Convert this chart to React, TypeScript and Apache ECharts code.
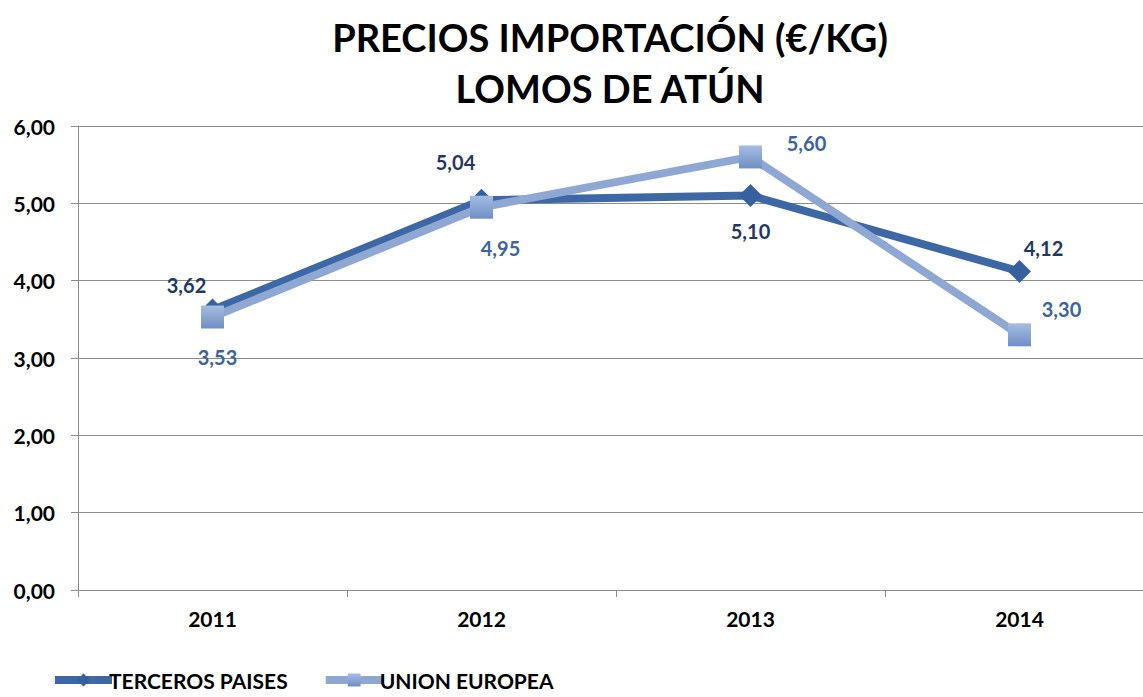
import React, { useEffect, useRef } from "react";
import * as echarts from "echarts";

const years = ["2011", "2012", "2013", "2014"];
const tercerosPaises = [3.62, 5.04, 5.1, 4.12];
const unionEuropea = [3.53, 4.95, 5.6, 3.3];
const tercerosLabelOffsets: [number, number][] = [[-26, 1], [-26, -12], [0, 62], [24, 3]];
const ueLabelOffsets: [number, number][] = [[5, 66], [19, 67], [56, 13], [42, 1]];

const FONT = "Lato";
const fmt = (v: number) => v.toFixed(2).replace(".", ",");

export default function App() {
  const ref = useRef<HTMLDivElement>(null);
  useEffect(() => {
    const chart = echarts.init(ref.current!, null, { renderer: "svg" });
    const terceroColor = "#3e68a5";
    const ueColor = "#8ea8d3";
    const ueMarker = new echarts.graphic.LinearGradient(0, 0, 0, 1, [
      { offset: 0, color: "#a6bde2" },
      { offset: 1, color: "#6f8ec4" },
    ]);
    chart.setOption({
      animation: false,
      backgroundColor: "#ffffff",
      textStyle: { fontFamily: FONT },
      title: {
        text: "PRECIOS IMPORTACIÓN (€/KG)\nLOMOS DE ATÚN",
        left: 605,
        textAlign: "center",
        top: 6,
        textStyle: { fontFamily: FONT, fontWeight: "bold", fontSize: 38, lineHeight: 51, color: "#000" },
      },
      grid: { left: 78, right: 0, top: 126, bottom: 107, containLabel: false },
      legend: {
        left: 46,
        bottom: 0,
        itemWidth: 57,
        itemHeight: 16,
        itemGap: 34,
        lineStyle: { width: 8 },
        textStyle: { fontFamily: FONT, fontWeight: "bold", fontSize: 21, lineHeight: 24, color: "#000", padding: [0, 0, 0, -8] },
        data: ["TERCEROS PAISES", "UNION EUROPEA"],
      },
      xAxis: {
        type: "category",
        data: years,
        axisLine: { lineStyle: { color: "#8c8c8c", width: 1 } },
        axisTick: { show: true, length: 7, lineStyle: { color: "#8c8c8c" } },
        axisLabel: { fontFamily: FONT, fontWeight: "bold", fontSize: 21, color: "#000", margin: 18 },
      },
      yAxis: {
        type: "value",
        min: 0,
        max: 6,
        interval: 1,
        axisLine: { show: true, lineStyle: { color: "#8c8c8c" } },
        axisTick: { show: true, length: 7, lineStyle: { color: "#8c8c8c" } },
        splitLine: { lineStyle: { color: "#8c8c8c", width: 1 } },
        axisLabel: { fontFamily: FONT, fontWeight: "bold", fontSize: 21, color: "#000", margin: 23, formatter: (v: number) => fmt(v) },
      },
      series: [
        {
          name: "TERCEROS PAISES",
          type: "line",
          z: 2,
          data: tercerosPaises.map((v, i) => ({
            value: v,
            label: { offset: tercerosLabelOffsets[i] },
          })),
          symbol: "diamond",
          symbolSize: 23,
          lineStyle: { width: 8, color: terceroColor },
          itemStyle: { color: "#36619f" },
          label: {
            show: true,
            position: "top",
            formatter: (p: any) => fmt(p.value),
            fontFamily: FONT,
            fontWeight: "bold",
            fontSize: 20,
            color: "#1f3962",
          },
        },
        {
          name: "UNION EUROPEA",
          type: "line",
          z: 3,
          data: unionEuropea.map((v, i) => ({
            value: v,
            label: { offset: ueLabelOffsets[i] },
          })),
          symbol: "rect",
          symbolSize: 23,
          lineStyle: { width: 8, color: ueColor },
          itemStyle: { color: ueMarker },
          label: {
            show: true,
            position: "top",
            formatter: (p: any) => fmt(p.value),
            fontFamily: FONT,
            fontWeight: "bold",
            fontSize: 20,
            color: "#3c649f",
          },
        },
      ],
    });
    return () => chart.dispose();
  }, []);
  return (
    <div style={{ position: "absolute", left: 0, top: 0, width: 1143, height: 697, overflow: "hidden" }}>
      <div ref={ref} style={{ width: 1154, height: 697 }} />
    </div>
  );
}
